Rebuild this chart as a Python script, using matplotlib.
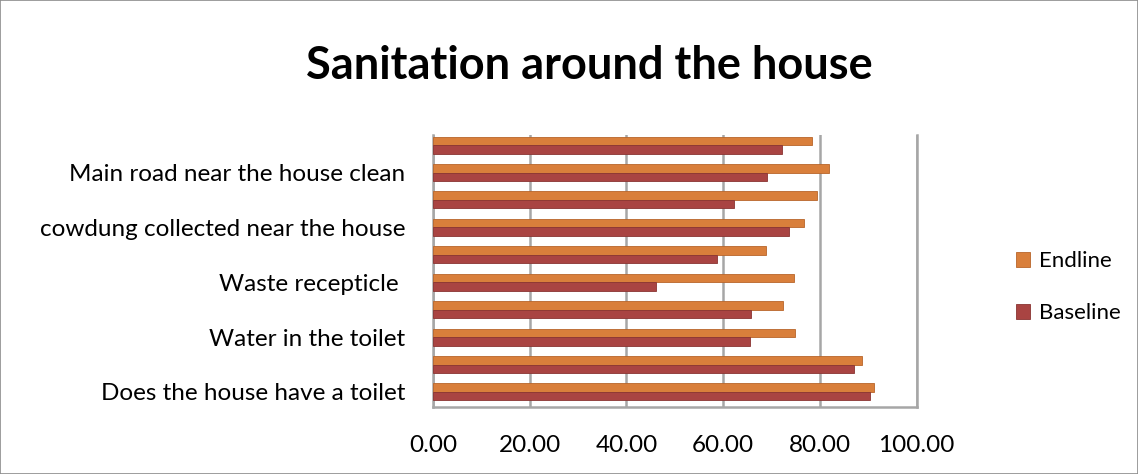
import numpy as np
import matplotlib.pyplot as plt
from matplotlib.patches import Rectangle

plt.rcParams['font.family'] = ['Lato', 'DejaVu Sans']

# values read from bottom category to top
label_pos = [0, 2, 4, 6, 8]
labels = ["Does the house have a toilet", "Water in the toilet", "Waste recepticle ",
          "cowdung collected near the house", "Main road near the house clean"]
endline = [91.2, 88.7, 74.8, 72.4, 74.6, 68.8, 76.8, 79.4, 81.9, 78.3]
baseline = [90.3, 87.0, 65.5, 65.8, 46.0, 58.7, 73.6, 62.2, 69.1, 72.1]
xticks = [0, 20, 40, 60, 80, 100]

c_end = '#D97F3B'
c_base = '#A94442'
grid_c = '#A6A6A6'

fig = plt.figure(figsize=(11.38, 4.74), dpi=100)
fig.patches.append(Rectangle((0, 0), 1, 1, transform=fig.transFigure, fill=False,
                             edgecolor='#8C8C8C', linewidth=1.2))

ax = fig.add_axes([433 / 1138, 1 - 407 / 474, (916.7 - 433) / 1138, (407 - 135) / 474])

y = np.arange(len(endline))
h = 0.31
ax.barh(y + h / 2, endline, height=h, color=c_end, edgecolor='#B8652A', linewidth=0.6,
        label='Endline', zorder=3)
ax.barh(y - h / 2, baseline, height=h, color=c_base, edgecolor='#8A3432', linewidth=0.6,
        label='Baseline', zorder=3)

ax.set_xlim(0, 100)
ax.set_ylim(-0.55, 9.37)
ax.set_xticks(xticks)
ax.set_xticklabels([f"{v:.2f}" for v in xticks], fontsize=17.5)
ax.set_yticks(label_pos)
ax.set_yticklabels(labels, fontsize=17.5)
ax.tick_params(length=0)
ax.tick_params(axis='x', pad=20)
ax.tick_params(axis='y', pad=20)
ax.grid(axis='x', color=grid_c, linewidth=1.8, zorder=0)
ax.spines['top'].set_visible(False)
for s in ['left', 'bottom', 'right']:
    ax.spines[s].set_color(grid_c)
    ax.spines[s].set_linewidth(1.8)

fig.text(0.518, 1 - 66 / 474, "Sanitation around the house", ha='center', va='center',
         fontsize=32.5, fontweight='bold')

fig.legend(loc='center left', bbox_to_anchor=(996 / 1138, 1 - 287 / 474), frameon=False,
           fontsize=16, handlelength=0.65, handleheight=0.65, labelspacing=1.45,
           handletextpad=0.4)

fig.savefig('out.png', dpi=100)
